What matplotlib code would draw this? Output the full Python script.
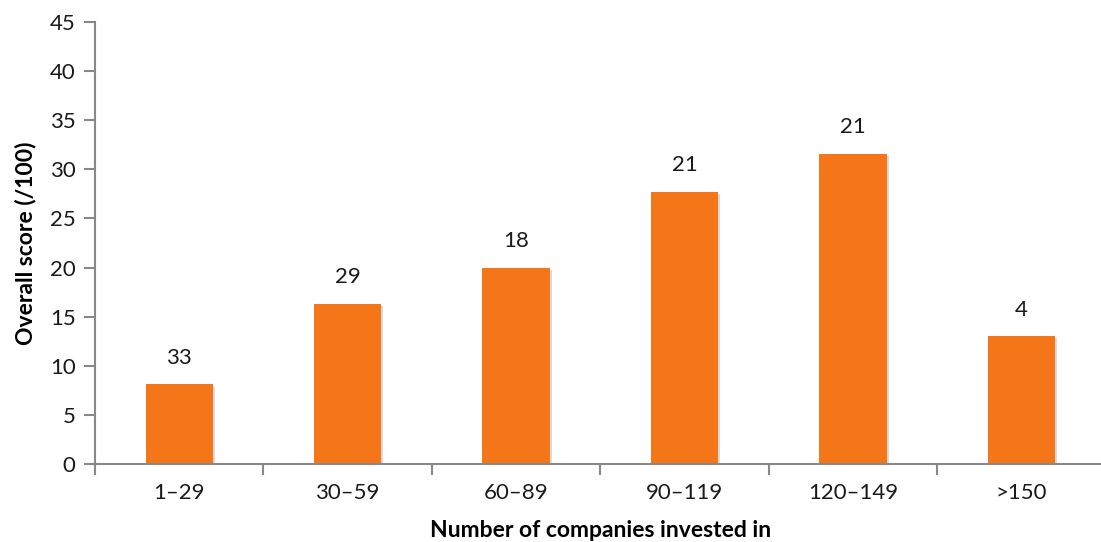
import matplotlib
matplotlib.use("Agg")
import matplotlib.pyplot as plt
import matplotlib.patheffects as pe
import numpy as np

# 投資先企業数ごとの平均スコアと該当数
groups = ["1–29", "30–59", "60–89", "90–119", "120–149", ">150"]
scores = [8.1, 16.3, 20.0, 27.7, 31.6, 13.0]
counts = [33, 29, 18, 21, 21, 4]

plt.rcParams['font.family'] = ['Lato', 'DejaVu Sans']

fig = plt.figure(figsize=(11.01, 5.42), dpi=100)
ax = fig.add_axes([0.0863, 0.1439, 0.918, 0.8155])

x = np.arange(len(groups))
bars = ax.bar(x, scores, width=0.4, color="#F57618", zorder=2)
for b in bars:
    b.set_path_effects([pe.SimplePatchShadow(offset=(1.5, -1.5), shadow_rgbFace="#999999", alpha=0.35),
                        pe.Normal()])

for xi, s, c in zip(x, scores, counts):
    ax.annotate(str(c), (xi, s), xytext=(0, 12), textcoords="offset points",
                ha="center", va="bottom", fontsize=16, color="#1a1a1a")

ax.set_xlim(-0.5, len(groups) - 0.5)
ax.set_ylim(0, 45)
ax.set_yticks(np.arange(0, 46, 5))
ax.set_xticks(np.arange(-0.5, len(groups), 1.0), minor=False)
ax.set_xticklabels([])
ax.set_xticks(x, minor=True)
ax.set_xticklabels(groups, minor=True)
ax.tick_params(axis="x", which="minor", length=0, pad=14, labelsize=16, labelcolor="#1a1a1a")
ax.tick_params(axis="x", which="major", length=8, width=1.5, color="#888888", direction="out")
ax.tick_params(axis="y", length=8, width=1.5, color="#888888", labelsize=16, labelcolor="#1a1a1a", pad=6)

for side in ["top", "right"]:
    ax.spines[side].set_visible(False)
for side in ["left", "bottom"]:
    ax.spines[side].set_color("#888888")
    ax.spines[side].set_linewidth(1.5)

ax.set_ylabel("Overall score (/100)", fontsize=16.5, fontweight="bold", labelpad=10)
ax.set_xlabel("Number of companies invested in", fontsize=16.5, fontweight="bold", labelpad=12)

fig.savefig("out.png", dpi=100)
